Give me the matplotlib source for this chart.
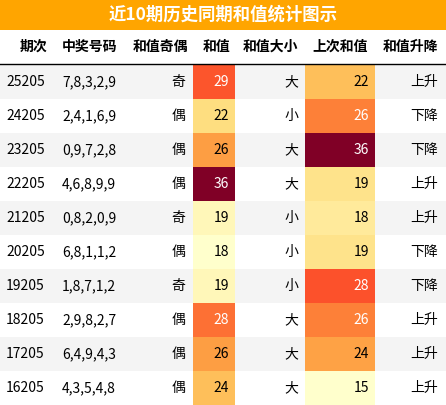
import matplotlib
matplotlib.use("Agg")
import matplotlib.pyplot as plt
from matplotlib.patches import Rectangle
import matplotlib.colors as mcolors
import numpy as np

plt.rcParams['font.family'] = ['Noto Sans CJK SC', 'DejaVu Sans']

title = "近10期历史同期和值统计图示"
headers = ["期次", "中奖号码", "和值奇偶", "和值", "和值大小", "上次和值", "和值升降"]
periods = ["25205", "24205", "23205", "22205", "21205", "20205", "19205", "18205", "17205", "16205"]
numbers = ["7,8,3,2,9", "2,4,1,6,9", "0,9,7,2,8", "4,6,8,9,9", "0,8,2,0,9",
           "6,8,1,1,2", "1,8,7,1,2", "2,9,8,2,7", "6,4,9,4,3", "4,3,5,4,8"]
parity = ["奇", "偶", "偶", "偶", "奇", "偶", "奇", "偶", "偶", "偶"]
sums = [29, 22, 26, 36, 19, 18, 19, 28, 26, 24]
size = ["大", "小", "大", "大", "小", "小", "小", "大", "大", "大"]
prev_sums = [22, 26, 36, 19, 18, 19, 28, 26, 24, 15]
trend = ["上升", "下降", "下降", "上升", "上升", "下降", "下降", "上升", "上升", "上升"]

W, H = 446, 405
fig = plt.figure(figsize=(W/100, H/100), dpi=100)
ax = fig.add_axes([0, 0, 1, 1])
ax.set_xlim(0, W); ax.set_ylim(H, 0); ax.axis('off')

cmap = plt.get_cmap('YlOrRd')
# title bar
ax.add_patch(Rectangle((0, 0), W, 30, color='#FFA500', lw=0))
ax.text(W/2, 15, title, ha='center', va='center', color='white', fontsize=12.5, fontweight='bold')

top = 65; rh = 34
hy = 47
hx = [(20, 'left'), (62, 'left'), (188, 'right'), (230, 'right'), (298, 'right'), (368, 'right'), (438, 'right')]
for (x, a), h in zip(hx, headers):
    ax.text(x, hy, h, ha=a, va='center', fontsize=10, fontweight='bold', color='black')
ax.plot([0, W], [top-1, top-1], color='black', lw=1)

def cell(col_vals, i, x0, x1, tx):
    v = col_vals[i]
    n = (v - min(col_vals)) / (max(col_vals) - min(col_vals))
    c = cmap(n)
    ax.add_patch(Rectangle((x0, top + i*rh), x1-x0, rh, color=c, lw=0))
    lum = 0.299*c[0] + 0.587*c[1] + 0.114*c[2]
    ax.text(tx, top + i*rh + rh/2, str(v), ha='right', va='center', fontsize=10,
            color='white' if lum < 0.62 else 'black')

for i in range(len(periods)):
    y = top + i*rh
    bg = '#F4F4F4' if i % 2 == 0 else 'white'
    ax.add_patch(Rectangle((0, y), W, rh, color=bg, lw=0))
    yc = y + rh/2
    ax.text(6, yc, periods[i], ha='left', va='center', fontsize=10)
    ax.text(62, yc, numbers[i], ha='left', va='center', fontsize=10)
    ax.text(185, yc, parity[i], ha='right', va='center', fontsize=10)
    cell(sums, i, 193, 235, 229)
    ax.text(298, yc, size[i], ha='right', va='center', fontsize=10)
    cell(prev_sums, i, 305, 375, 369)
    ax.text(438, yc, trend[i], ha='right', va='center', fontsize=10)

fig.savefig('out.png', dpi=100)
